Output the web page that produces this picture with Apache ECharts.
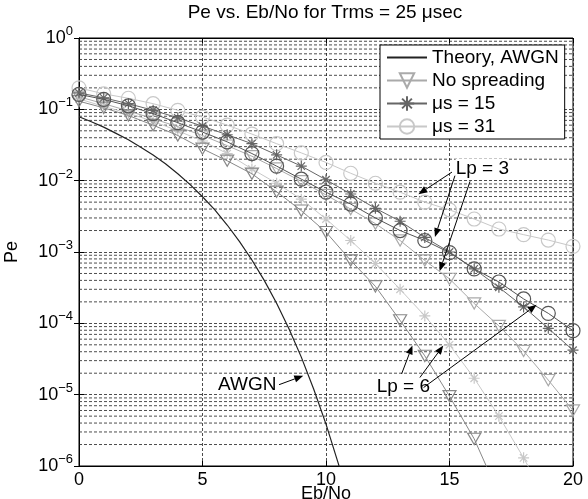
<!DOCTYPE html>
<html><head><meta charset="utf-8">
<script src="https://cdn.jsdelivr.net/npm/echarts@6/dist/echarts.min.js"></script>
<style>html,body{margin:0;padding:0;background:#fff}#c{width:588px;height:499px}</style>
</head><body><div id="c"></div>
<script>
// Eb/No grid for simulated curves
const ebno = [0,1,2,3,4,5,6,7,8,9,10,11,12,13,14,15,16,17,18,19,20];
// Theory AWGN curve
const awgnX  = [0,0.5,1,1.5,2,2.5,3,3.5,4,4.5,5,5.5,6,6.5,7,7.5,8,8.5,9,9.5,10,10.5,11];
const awgnPe = [7.86e-2,6.7e-2,5.63e-2,4.6e-2,3.75e-2,2.95e-2,2.29e-2,1.73e-2,1.25e-2,8.8e-3,5.95e-3,3.9e-3,2.39e-3,1.4e-3,7.73e-4,4.0e-4,1.91e-4,8.4e-5,3.36e-5,1.2e-5,3.87e-6,1.08e-6,2.6e-7];
// No spreading (triangles)
const noSpreadLp3 = [0.15,0.12,0.095,0.074,0.057,0.043,0.031,0.022,0.0148,0.0098,6.3e-3,4.0e-3,2.5e-3,1.45e-3,7.6e-4,4.2e-4,1.9e-4,9.2e-5,4.1e-5,1.6e-5,6e-6];
const noSpreadLp6 = [0.13,0.105,0.082,0.06,0.043,0.028,0.019,0.0125,7e-3,3.8e-3,1.9e-3,7.6e-4,3.3e-4,1.1e-4,3.5e-5,9.5e-6,2.4e-6,4e-7];
// mu_s = 15 (stars)
const mu15Lp3 = [0.17,0.145,0.12,0.097,0.076,0.058,0.044,0.033,0.023,0.016,0.0103,6.5e-3,4.1e-3,2.7e-3,1.6e-3,1.0e-3,5.8e-4,3.2e-4,1.7e-4,8.5e-5,4.2e-5];
const mu15Lp6 = [0.14,0.11,0.088,0.068,0.05,0.036,0.024,0.0146,9.2e-3,5.5e-3,2.9e-3,1.45e-3,6.9e-4,3.0e-4,1.27e-4,5e-5,1.7e-5,5e-6,1.3e-6,3e-7];
// mu_s = 31 (circles)
const mu31Lp3 = [0.2,0.165,0.143,0.12,0.097,0.078,0.06,0.045,0.033,0.0245,0.018,0.0127,9.2e-3,6.9e-3,5.0e-3,3.9e-3,2.9e-3,2.1e-3,1.75e-3,1.47e-3,1.2e-3];
const mu31Lp6 = [0.162,0.138,0.112,0.087,0.065,0.048,0.035,0.024,0.016,0.0105,6.9e-3,4.7e-3,3.0e-3,2.0e-3,1.45e-3,9.8e-4,5.8e-4,3.8e-4,2.2e-4,1.38e-4,7.9e-5];
// minor grid multipliers per decade
const minorMult = [2,3,4,5,6,7,8,9];
const decades = [-6,-5,-4,-3,-2,-1];

const FONT = 'Liberation Sans';
const TRI = 'path://M0,0L10,0L5,8.66Z';
const STAR = 'path://M5,0L5,10M0,5L10,5M1.6,1.6L8.4,8.4M8.4,1.6L1.6,8.4';
const GRIDLINE = {color:'#111', width:0.75, type:[3,2]};

function pairs(xs, ys){ return ys.map((y,i)=>[xs[i], y]); }
function mk(name, ys, color, symbol, size, z){
  return {
    name, type:'line', data: pairs(ebno, ys), symbol, symbolSize: size, symbolKeepAspect:true,
    showAllSymbol:true, z,
    lineStyle:{color, width:1},
    itemStyle:{color:'rgba(255,255,255,0)', borderColor:color, borderWidth:1.2},
    emphasis:{disabled:true}
  };
}
const minorSeries = [];
decades.forEach(d=>minorMult.forEach(m=>{
  const y = m*Math.pow(10,d);
  minorSeries.push({name:'minor', type:'line', data:[[0,y],[20,y]], symbol:'none', silent:true, z:1,
    lineStyle:GRIDLINE, emphasis:{disabled:true}});
}));

const chart = echarts.init(document.getElementById('c'), null, {renderer:'canvas'});
const option = {
  animation:false,
  textStyle:{fontFamily:FONT},
  grid:{left:79, right:15, top:38, bottom:33, show:true, borderColor:'#000', borderWidth:1, backgroundColor:'#fff',
        containLabel:false, outerBoundsMode:'none'},
  xAxis:[{type:'value', min:0, max:20, interval:5,
    axisLine:{show:true, lineStyle:{color:'#000'}},
    axisTick:{inside:true, length:5, lineStyle:{color:'#000'}},
    axisLabel:{color:'#000', fontSize:18, margin:5, fontFamily:FONT},
    splitLine:{show:true, lineStyle:GRIDLINE},
    name:'Eb/No', nameLocation:'middle', nameGap:19, nameMoveOverlap:false,
    nameTextStyle:{color:'#000', fontSize:18, fontFamily:FONT, verticalAlign:'top'}
  },{type:'value', position:'top', min:0, max:20, interval:5,
    axisLine:{show:true, lineStyle:{color:'#000'}},
    axisTick:{inside:true, length:5, lineStyle:{color:'#000'}},
    axisLabel:{show:false}, splitLine:{show:false}}],
  yAxis:[{type:'log', logBase:10, min:1e-6, max:1, interval:1,
    axisLine:{show:true, lineStyle:{color:'#000'}},
    axisTick:{inside:true, length:5, lineStyle:{color:'#000'}},
    axisLabel:{color:'#000', margin:6, fontFamily:FONT,
      formatter:v=>{const e=Math.round(Math.log10(v)); return '{b|10}{s|'+(e<0?'\u2212':'')+Math.abs(e)+'}';},
      rich:{b:{fontSize:18, fontFamily:FONT, color:'#000'}, s:{fontSize:13, fontFamily:FONT, color:'#000', verticalAlign:'top', padding:[0,0,13,0]}}
    },
    splitLine:{show:true, lineStyle:GRIDLINE},
    name:'Pe', nameLocation:'middle', nameGap:58, nameRotate:90, nameMoveOverlap:false,
    nameTextStyle:{color:'#000', fontSize:18, fontFamily:FONT}
  },{type:'log', logBase:10, min:1e-6, max:1, interval:1, position:'right',
    axisLine:{show:true, lineStyle:{color:'#000'}},
    axisTick:{inside:true, length:5, lineStyle:{color:'#000'}},
    axisLabel:{show:false}, splitLine:{show:false}}],
  legend:{
    data:['Theory, AWGN','No spreading','\u03bcs = 15','\u03bcs = 31'],
    orient:'vertical', left:380, top:45, backgroundColor:'#fff', borderColor:'#000', borderWidth:1,
    padding:[3,6,3,6], itemGap:4, itemWidth:40, itemHeight:18,
    textStyle:{fontSize:19, color:'#000', fontFamily:FONT}, selectedMode:false
  },
  series:[
    ...minorSeries,
    {name:'Theory, AWGN', type:'line', data:pairs(awgnX, awgnPe), symbol:'circle', symbolSize:0, showSymbol:false, z:5,
      lineStyle:{color:'#222', width:1.2}, itemStyle:{color:'rgba(0,0,0,0)', borderWidth:0}, emphasis:{disabled:true}},
    mk('No spreading', noSpreadLp3, '#aaaaaa', TRI, 13, 4),
    mk('No spreading Lp6', noSpreadLp6, '#888888', TRI, 13, 4),
    mk('\u03bcs = 15', mu15Lp3, '#666666', STAR, 11, 5),
    mk('\u03bcs = 15 Lp6', mu15Lp6, '#c8c8c8', STAR, 11, 3),
    mk('\u03bcs = 31', mu31Lp3, '#c8c8c8', 'circle', 14, 3),
    mk('\u03bcs = 31 Lp6', mu31Lp6, '#555555', 'circle', 14, 6)
  ]
};
chart.setOption(option);

function P(x, lv){ return chart.convertToPixel({xAxisIndex:0, yAxisIndex:0}, [x, Math.pow(10, lv)]); }
function arrow(x1,v1,x2,v2){
  const a=P(x1,v1), b=P(x2,v2);
  const dx=b[0]-a[0], dy=b[1]-a[1], L=Math.hypot(dx,dy), ux=dx/L, uy=dy/L;
  const hl=9, hw=3.5;
  const bx=b[0]-ux*hl, by=b[1]-uy*hl;
  return [
    {type:'line', shape:{x1:a[0],y1:a[1],x2:bx,y2:by}, style:{stroke:'#000', lineWidth:1}, z:100},
    {type:'polygon', shape:{points:[[b[0],b[1]],[bx-uy*hw,by+ux*hw],[bx+uy*hw,by-ux*hw]]}, style:{fill:'#000'}, z:100}
  ];
}
function label(text, x, v){
  const p=P(x,v);
  return {type:'text', x:p[0], y:p[1], z:100, style:{text, fill:'#000', fontSize:19, fontFamily:FONT, align:'left', verticalAlign:'middle', backgroundColor:'#fff'}};
}
const g = [
  {type:'text', x:325, y:13, style:{text:'Pe vs. Eb/No for Trms = 25 \u03bcsec', fill:'#000', fontSize:19, fontFamily:FONT, align:'center', verticalAlign:'middle'}},
  label('Lp = 3', 15.25, -1.83),
  ...arrow(15.1,-1.88, 13.74,-2.19),
  ...arrow(15.22,-1.93, 14.41,-2.79),
  ...arrow(15.83,-2.01, 14.6,-3.27),
  label('Lp = 6', 12.05, -4.885),
  ...arrow(13.06,-4.71, 13.5,-4.31),
  ...arrow(13.8,-4.76, 14.75,-4.31),
  ...arrow(13.95,-4.9, 18.53,-3.74),
  label('AWGN', 5.63, -4.86),
  ...arrow(8.1,-4.86, 9.08,-4.735)
];
chart.setOption({graphic:g});
</script></body></html>
